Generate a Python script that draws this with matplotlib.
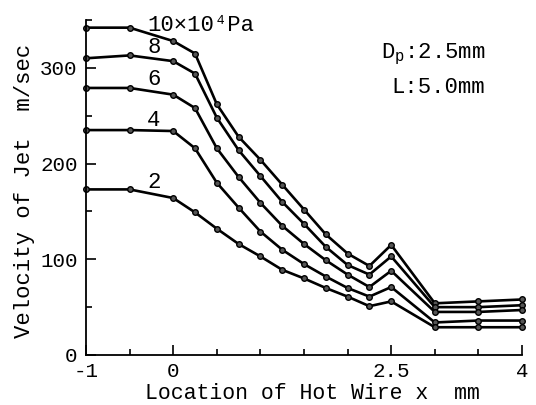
import matplotlib
matplotlib.use("Agg")
import matplotlib.pyplot as plt
from matplotlib.ticker import FixedLocator

# hot wire location (mm) and jet velocity (m/sec) for each supply pressure
x = [-1, -0.5, 0, 0.25, 0.5, 0.75, 1.0, 1.25, 1.5, 1.75, 2.0, 2.25, 2.5, 3.0, 3.5, 4.0]
v10 = [342, 342, 328, 315, 262, 228, 204, 178, 152, 126, 106, 93, 115, 54, 56, 58]
v8 = [310, 313, 307, 294, 248, 214, 187, 160, 137, 113, 94, 84, 103, 50, 50, 52]
v6 = [279, 279, 272, 258, 216, 186, 159, 135, 116, 99, 84, 71, 88, 45, 45, 47]
v4 = [235, 235, 234, 216, 180, 154, 129, 110, 95, 82, 70, 61, 71, 34, 36, 36]
v2 = [173, 173, 164, 149, 132, 116, 103, 89, 80, 70, 61, 51, 56, 29, 29, 29]

curve_labels = ["10\u00d710\u2074Pa", "8", "6", "4", "2"]
label_y = [338, 316, 282, 239, 175]

x_major = [-1, 0, 2.5, 4]
x_major_labels = ["-1", "0", "2.5", "4"]
x_minor = [-0.5, 0.5, 1.0, 1.5, 2.0, 3.0, 3.5]
y_major = [0, 100, 200, 300]
y_minor = [50, 150, 250, 350]

mono = ["Liberation Mono", "DejaVu Sans Mono"]
plt.rcParams["font.family"] = mono
plt.rcParams["mathtext.fontset"] = "custom"
plt.rcParams["mathtext.rm"] = "Liberation Mono"

fig = plt.figure(figsize=(5.36, 4.05), dpi=100)
ax = fig.add_axes([86 / 536, 50 / 405, 436 / 536, 335 / 405])

for v in [v10, v8, v6, v4, v2]:
    ax.plot(x, v, color="black", linewidth=1.9, marker="o", markersize=4,
            markerfacecolor="#555555", markeredgecolor="black", clip_on=False)

for lab, ly in zip(curve_labels, label_y):
    ax.text(-0.30, ly, lab, fontsize=16, ha="left", va="baseline")

ax.text(3.58, 310, r"D$_{\rm p}$:2.5mm", fontsize=16, ha="right", va="baseline")
ax.text(3.58, 274, "L:5.0mm", fontsize=16, ha="right", va="baseline")

ax.set_xlim(-1, 4)
ax.set_ylim(0, 350)
ax.spines["top"].set_visible(False)
ax.spines["right"].set_visible(False)
ax.spines["left"].set_linewidth(1.3)
ax.spines["bottom"].set_linewidth(1.3)

ax.xaxis.set_major_locator(FixedLocator(x_major))
ax.xaxis.set_minor_locator(FixedLocator(x_minor))
ax.set_xticklabels(x_major_labels)
ax.yaxis.set_major_locator(FixedLocator(y_major))
ax.yaxis.set_minor_locator(FixedLocator(y_minor))
ax.tick_params(which="major", direction="in", length=7, width=1.2, labelsize=15, pad=5)
ax.tick_params(which="minor", direction="in", length=4, width=1.2)
ax.tick_params(axis="y", which="major", pad=6)

ax.text(0.52, -0.131, "Location of Hot Wire x  mm", transform=ax.transAxes,
        fontsize=15.5, ha="center", va="baseline")
ax.text(-0.14, 0.49, "Velocity of Jet  m/sec", transform=ax.transAxes,
        fontsize=16, ha="center", va="center", rotation=90)

plt.savefig("out.png", dpi=100)
